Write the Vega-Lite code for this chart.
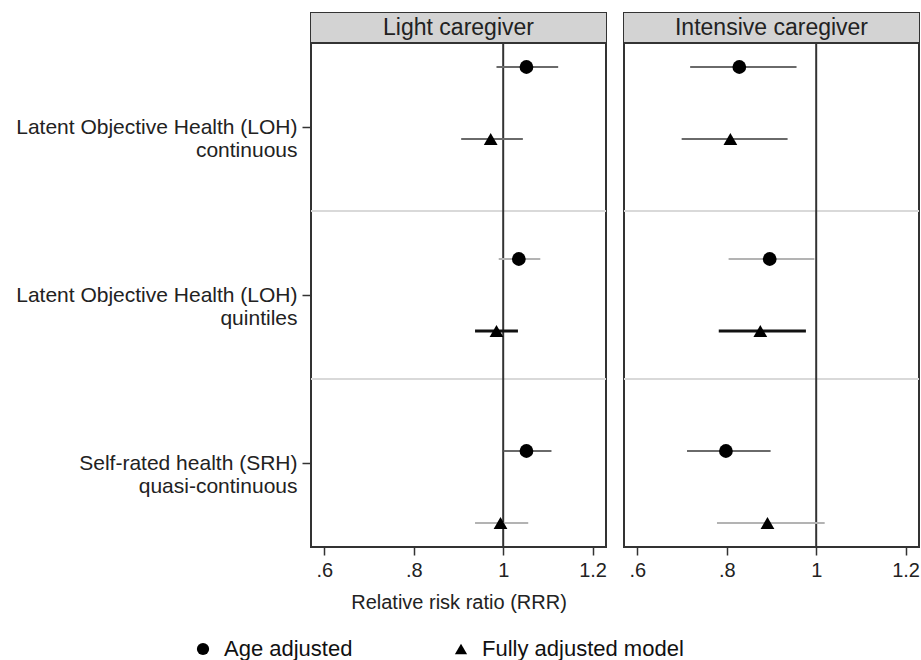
{
  "$schema": "https://vega.github.io/schema/vega-lite/v6.json",
  "padding": {"left": 14, "top": 12, "right": 1, "bottom": 2},
  "background": "white",
  "data": {
    "values": [
      {"panel": "Light caregiver", "measure": "LOH continuous", "model": "Age adjusted", "rrr": 1.052, "lo": 0.985, "hi": 1.123, "pos": 1, "ci_type": "A"},
      {"panel": "Light caregiver", "measure": "LOH continuous", "model": "Fully adjusted model", "rrr": 0.972, "lo": 0.906, "hi": 1.044, "pos": 4, "ci_type": "A"},
      {"panel": "Light caregiver", "measure": "LOH quintiles", "model": "Age adjusted", "rrr": 1.035, "lo": 0.99, "hi": 1.083, "pos": 9, "ci_type": "B"},
      {"panel": "Light caregiver", "measure": "LOH quintiles", "model": "Fully adjusted model", "rrr": 0.985, "lo": 0.937, "hi": 1.033, "pos": 12, "ci_type": "C"},
      {"panel": "Light caregiver", "measure": "SRH quasi-continuous", "model": "Age adjusted", "rrr": 1.052, "lo": 1.001, "hi": 1.108, "pos": 17, "ci_type": "A"},
      {"panel": "Light caregiver", "measure": "SRH quasi-continuous", "model": "Fully adjusted model", "rrr": 0.994, "lo": 0.937, "hi": 1.056, "pos": 20, "ci_type": "B"},
      {"panel": "Intensive caregiver", "measure": "LOH continuous", "model": "Age adjusted", "rrr": 0.828, "lo": 0.718, "hi": 0.956, "pos": 1, "ci_type": "A"},
      {"panel": "Intensive caregiver", "measure": "LOH continuous", "model": "Fully adjusted model", "rrr": 0.808, "lo": 0.699, "hi": 0.936, "pos": 4, "ci_type": "A"},
      {"panel": "Intensive caregiver", "measure": "LOH quintiles", "model": "Age adjusted", "rrr": 0.896, "lo": 0.804, "hi": 0.996, "pos": 9, "ci_type": "B"},
      {"panel": "Intensive caregiver", "measure": "LOH quintiles", "model": "Fully adjusted model", "rrr": 0.875, "lo": 0.782, "hi": 0.977, "pos": 12, "ci_type": "C"},
      {"panel": "Intensive caregiver", "measure": "SRH quasi-continuous", "model": "Age adjusted", "rrr": 0.798, "lo": 0.711, "hi": 0.898, "pos": 17, "ci_type": "A"},
      {"panel": "Intensive caregiver", "measure": "SRH quasi-continuous", "model": "Fully adjusted model", "rrr": 0.891, "lo": 0.778, "hi": 1.019, "pos": 20, "ci_type": "B"}
    ]
  },
  "config": {
    "font": "Liberation Sans",
    "view": {"stroke": "#333", "strokeWidth": 2},
    "axis": {"labelColor": "#222", "titleColor": "#222", "tickColor": "#333", "tickWidth": 1.5, "grid": false, "domain": false, "titleFontWeight": "normal"}
  },
  "spacing": 14,
  "hconcat": [
    {
      "width": 295, "height": 534,
      "transform": [{"filter": "datum.panel == 'Light caregiver'"}],
      "layer": [
        {"transform": [{"filter": "datum.pos == 1"}],
         "mark": {"type": "rect", "color": "#d3d3d3"},
         "encoding": {"y": {"datum": -1.25, "type": "quantitative"}, "y2": {"datum": 0}}},
        {"transform": [{"filter": "datum.pos == 1"}],
         "mark": {"type": "text", "fontSize": 23, "color": "#222", "baseline": "middle", "align": "center"},
         "encoding": {"y": {"datum": -0.625, "type": "quantitative"}, "text": {"field": "panel", "type": "nominal"}}},
        {"transform": [{"filter": "datum.pos == 1"}],
         "mark": {"type": "rule", "color": "#333", "strokeWidth": 2},
         "encoding": {"y": {"datum": 0, "type": "quantitative"}}},
        {"transform": [{"filter": "datum.pos == 1"}],
         "mark": {"type": "rule", "color": "#d9d9d9", "strokeWidth": 2},
         "encoding": {"y": {"datum": 7, "type": "quantitative"}}},
        {"transform": [{"filter": "datum.pos == 1"}],
         "mark": {"type": "rule", "color": "#d9d9d9", "strokeWidth": 2},
         "encoding": {"y": {"datum": 14, "type": "quantitative"}}},
        {"transform": [{"filter": "datum.pos == 1"}],
         "mark": {"type": "rule", "color": "#333", "strokeWidth": 2},
         "encoding": {"x": {"datum": 1, "type": "quantitative"}, "y": {"datum": 0, "type": "quantitative"}, "y2": {"datum": 21}}},
        {"transform": [{"filter": "datum.ci_type != 'C'"}],
         "mark": {"type": "rule", "strokeWidth": 2}, "encoding": {
          "x": {"field": "lo", "type": "quantitative"},
          "x2": {"field": "hi"},
          "y": {"field": "pos", "type": "quantitative"},
          "color": {"field": "ci_type", "type": "nominal", "scale": {"domain": ["A", "B", "C"], "range": ["#6a6a6a", "#b3b3b3", "#111111"]}, "legend": null}
        }},
        {"transform": [{"filter": "datum.ci_type == 'C'"}],
         "mark": {"type": "rule", "strokeWidth": 3}, "encoding": {
          "x": {"field": "lo", "type": "quantitative"},
          "x2": {"field": "hi"},
          "y": {"field": "pos", "type": "quantitative"},
          "color": {"field": "ci_type", "type": "nominal", "scale": {"domain": ["A", "B", "C"], "range": ["#6a6a6a", "#b3b3b3", "#111111"]}, "legend": null}
        }},
        {"mark": {"type": "point", "filled": true, "opacity": 1, "color": "black", "size": 190}, "encoding": {
          "x": {"field": "rrr", "type": "quantitative", "scale": {"domain": [0.57, 1.23], "nice": false, "zero": false},
            "axis": {"values": [0.6, 0.8, 1, 1.2], "format": ".1~f", "labelExpr": "datum.value < 1 ? slice(datum.label, 1) : datum.label", "labelFontSize": 20, "tickSize": 8, "labelPadding": 5, "title": "Relative risk ratio (RRR)", "titleFontSize": 20, "titlePadding": 12}},
          "y": {"field": "pos", "type": "quantitative", "scale": {"domain": [-1.25, 21], "reverse": true, "nice": false, "zero": false},
            "axis": {"values": [3.5, 10.5, 17.5], "labelExpr": "datum.value == 3.5 ? ['Latent Objective Health (LOH)', 'continuous'] : datum.value == 10.5 ? ['Latent Objective Health (LOH)', 'quintiles'] : ['Self-rated health (SRH)', 'quasi-continuous']", "labelFontSize": 21, "labelLineHeight": 23, "labelLimit": 0, "tickSize": 9, "labelPadding": 5, "title": null}},
          "shape": {"field": "model", "type": "nominal", "scale": {"domain": ["Age adjusted", "Fully adjusted model"], "range": ["circle", "triangle-up"]},
            "legend": {"title": null, "orient": "none", "legendX": -119, "legendY": 625, "direction": "horizontal", "columnPadding": 97, "labelFontSize": 22, "labelLimit": 0, "labelColor": "#111", "symbolSize": 150, "symbolFillColor": "black", "symbolStrokeWidth": 0, "labelOffset": 10}}
        }}
      ]
    },
    {
      "width": 295, "height": 534,
      "transform": [{"filter": "datum.panel == 'Intensive caregiver'"}],
      "layer": [
        {"transform": [{"filter": "datum.pos == 1"}],
         "mark": {"type": "rect", "color": "#d3d3d3"},
         "encoding": {"y": {"datum": -1.25, "type": "quantitative"}, "y2": {"datum": 0}}},
        {"transform": [{"filter": "datum.pos == 1"}],
         "mark": {"type": "text", "fontSize": 23, "color": "#222", "baseline": "middle", "align": "center"},
         "encoding": {"y": {"datum": -0.625, "type": "quantitative"}, "text": {"field": "panel", "type": "nominal"}}},
        {"transform": [{"filter": "datum.pos == 1"}],
         "mark": {"type": "rule", "color": "#333", "strokeWidth": 2},
         "encoding": {"y": {"datum": 0, "type": "quantitative"}}},
        {"transform": [{"filter": "datum.pos == 1"}],
         "mark": {"type": "rule", "color": "#d9d9d9", "strokeWidth": 2},
         "encoding": {"y": {"datum": 7, "type": "quantitative"}}},
        {"transform": [{"filter": "datum.pos == 1"}],
         "mark": {"type": "rule", "color": "#d9d9d9", "strokeWidth": 2},
         "encoding": {"y": {"datum": 14, "type": "quantitative"}}},
        {"transform": [{"filter": "datum.pos == 1"}],
         "mark": {"type": "rule", "color": "#333", "strokeWidth": 2},
         "encoding": {"x": {"datum": 1, "type": "quantitative"}, "y": {"datum": 0, "type": "quantitative"}, "y2": {"datum": 21}}},
        {"transform": [{"filter": "datum.ci_type != 'C'"}],
         "mark": {"type": "rule", "strokeWidth": 2}, "encoding": {
          "x": {"field": "lo", "type": "quantitative"},
          "x2": {"field": "hi"},
          "y": {"field": "pos", "type": "quantitative"},
          "color": {"field": "ci_type", "type": "nominal", "scale": {"domain": ["A", "B", "C"], "range": ["#6a6a6a", "#b3b3b3", "#111111"]}, "legend": null}
        }},
        {"transform": [{"filter": "datum.ci_type == 'C'"}],
         "mark": {"type": "rule", "strokeWidth": 3}, "encoding": {
          "x": {"field": "lo", "type": "quantitative"},
          "x2": {"field": "hi"},
          "y": {"field": "pos", "type": "quantitative"},
          "color": {"field": "ci_type", "type": "nominal", "scale": {"domain": ["A", "B", "C"], "range": ["#6a6a6a", "#b3b3b3", "#111111"]}, "legend": null}
        }},
        {"mark": {"type": "point", "filled": true, "opacity": 1, "color": "black", "size": 190}, "encoding": {
          "x": {"field": "rrr", "type": "quantitative", "scale": {"domain": [0.57, 1.23], "nice": false, "zero": false},
            "axis": {"values": [0.6, 0.8, 1, 1.2], "format": ".1~f", "labelExpr": "datum.value < 1 ? slice(datum.label, 1) : datum.label", "labelFontSize": 20, "tickSize": 8, "labelPadding": 5, "title": null}},
          "y": {"field": "pos", "type": "quantitative", "scale": {"domain": [-1.25, 21], "reverse": true, "nice": false, "zero": false}, "axis": {"labels": false, "ticks": false, "title": null}},
          "shape": {"field": "model", "type": "nominal", "scale": {"domain": ["Age adjusted", "Fully adjusted model"], "range": ["circle", "triangle-up"]}, "legend": null}
        }}
      ]
    }
  ]
}
